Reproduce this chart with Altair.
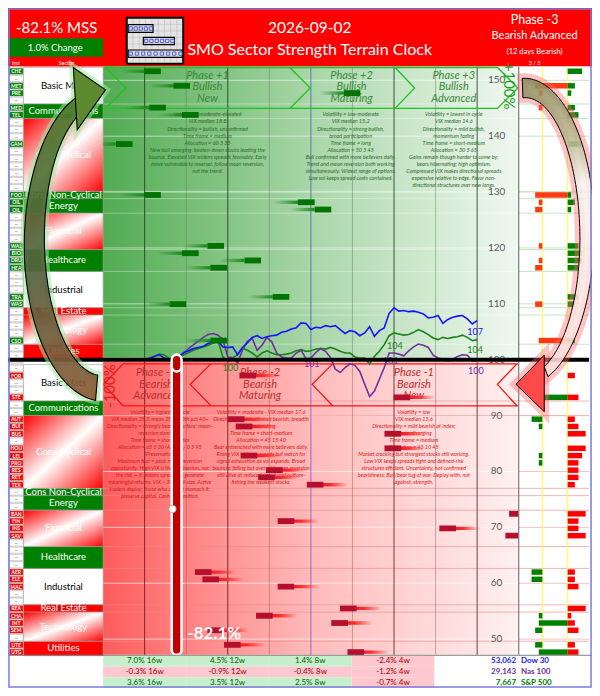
import numpy as np
import pandas as pd
import altair as alt

# ===================== values =====================
report_date = "2026-09-02"
chart_title = "SMO Sector Strength Terrain Clock"
mss_text = "-82.1% MSS"
mss_change_text = "1.0% Change"
phase_now = "Phase -3"
phase_name = "Bearish Advanced"
phase_days = "(12 days Bearish)"
phase_page = "3 / 3"
hand_label = "-82.1%"
hand_day = 1.77          # clock-hand position on the column axis
hand_dot_value = 73.3    # marker on the hand

sector_names = ["Basic Mats", "Communications", "Cons Cyclical", "Cons Non-Cyclical", "Energy",
                "Financial", "Healthcare", "Industrial", "Real Estate", "Technology", "Utilities"]
sector_sizes = [5, 2, 10, 1, 2, 5, 3, 5, 1, 4, 2]
sector_fill = ["white", "green", "redgrad", "green", "green", "redgrad", "green", "white", "red",
               "redgrad", "red"]

top_codes = ["CHE", "—", "MET", "PRE", "—", "MED", "TEL", "—", "—", "—",
             "GAM", "—", "—", "—", "—", "—", "—", "FOO", "OIL", "OIL",
             "—", "—", "—", "—", "WAL", "BIO", "DRU", "HEA", "—", "—",
             "—", "TRA", "WAS", "—", "—", "—", "—", "CSO", "—", "—"]
bottom_codes = ["—", "FOR", "—", "—", "STE", "—", "—", "AUT", "BUI", "BUS",
                "—", "HOU", "LEI", "PRO", "RES", "RET", "TEX", "—", "—", "—",
                "BAN", "FIN", "INS", "SAV", "—", "—", "—", "—", "AER", "ELE",
                "MAC", "—", "—", "REA", "CHA", "INT", "SEM", "—", "UTE", "UTG"]

# industry position on the clock face (column units), in code order
top_strength = [1.19, 1.89, 5.99, 1.31, 2.10, 0.51, 1.19, 4.89, 5.29, 2.71, 2.10, 3.60, 2.78,
                4.28, 1.80, 2.78]
bottom_strength = [3.48, 7.19, 3.20, 3.39, 6.97, 6.97, 3.51, None, 4.12, 3.93, 5.10, 9.97, 4.40,
                   8.29, 9.88, 2.41, 2.59, 4.40, 5.90, 3.88, 5.69, 2.71, 3.11, 6.08]

# right-hand counters per industry (neg side, middle band, pos side)
top_neg = [0, 2, 1, 1, 0, 0, 2, 1, 2, 1, 0, 1, 2, 0, 2, 1]
top_mid = [0, 1, 0, 0, 0, 0, 1, 0, 0, 0, 0, 0, 0, 0, 0, 1]
top_pos = [4, 2, 1, 2, 3, 4, 1, 2, 1, 3, 4, 4, 3, 3, 2, 2]
bot_neg = [0, 0, 3, 1, 0, 0, 1, 1, 0, 0, 0, 0, 0, 0, 0, 3, 3, 0, 0, 1, 1, 2, 2, 1]
bot_mid = [0, 1, 0, 0, 0, 0, 0, 0, 0, 0, 0, 0, 0, 0, 0, 0, 0, 0, 0, 0, 1, 0, 0, 1]
bot_pos = [2, 3, 2, 3, 5, 5, 4, 3, 3, 3, 2, 5, 3, 3, 5, 2, 2, 3, 5, 1, 2, 3, 2, 3]

# index lines rebased to 100
dow_line = [100.1, 100.2, 100.6, 100.9, 100.3, 99.9, 100.1, 100.5, 101.3, 101.6,
            102.0, 102.2, 102.4, 102.9, 103.3, 103.4, 102.3, 102.2, 102.3, 100.9,
            102.2, 103.0, 104.0, 104.3, 103.8, 104.1, 104.3, 104.4, 104.9, 105.1,
            105.5, 105.7, 106.6, 106.5, 105.4, 105.8, 105.7, 106.1, 105.9, 106.1,
            105.4, 104.7, 105.2, 105.0, 104.3, 104.8, 105.9, 104.2, 105.2, 105.7,
            108.3, 109.3, 108.7, 108.8, 108.6, 108.7, 108.5, 108.2, 107.5, 107.6,
            107.9, 106.5, 107.2, 107.6, 107.8, 107.9, 107.3, 106.4, 107.0]
sp_line = [100.1, 100.3, 100.6, 101.0, 100.9, 100.2, 100.3, 100.5, 100.9, 101.3,
           101.7, 102.0, 102.3, 102.6, 103.0, 103.4, 100.5, 99.8, 100.3, 100.9,
           102.1, 101.7, 101.2, 100.5, 101.2, 101.6, 101.2, 100.9, 100.9, 101.0,
           101.2, 101.6, 101.8, 101.5, 101.6, 101.9, 102.0, 101.9, 102.2, 101.9,
           101.5, 101.2, 101.2, 100.5, 100.3, 100.3, 99.2, 100.6, 101.5, 102.7,
           104.3, 104.8, 104.6, 104.4, 104.5, 104.9, 105.4, 105.0, 104.5, 103.9,
           103.6, 104.0, 103.8, 104.0, 104.1, 104.4, 104.0, 103.4, 103.6]
nas_line = [100.1, 100.2, 100.1, 100.1, 100.3, 99.9, 100.2, 100.5, 101.2, 102.0,
            102.7, 103.3, 104.0, 104.5, 104.7, 104.4, 103.6, 100.5, 100.4, 99.4,
            101.7, 103.3, 103.8, 101.7, 102.6, 104.0, 103.2, 101.2, 100.5, 100.3,
            100.3, 101.2, 101.7, 100.2, 100.3, 101.3, 102.0, 101.5, 100.4, 98.3,
            97.7, 98.6, 99.3, 99.0, 97.9, 95.6, 93.4, 94.4, 96.5, 98.6,
            101.2, 101.2, 101.0, 100.7, 101.6, 102.3, 102.8, 102.6, 102.2, 100.8,
            100.3, 100.1, 99.8, 100.1, 100.6, 100.9, 100.8, 99.8, 99.9]
line_start, line_end = 1.0, 9.0

lbl_text = ["100", "101", "104", "101", "107", "104", "100"]
lbl_series = ["S&P 500", "Nas 100", "S&P 500", "Nas 100", "Dow 30", "S&P 500", "Nas 100"]
lbl_day = [3.06, 5.02, 7.02, 6.92, 8.95, 8.95, 8.97]
lbl_value = [98.6, 99.2, 102.4, 99.75, 104.9, 101.7, 97.9]

value_ticks = [150, 140, 130, 120, 110, 100, 90, 80, 70, 60, 50]

periods = ["16w", "12w", "8w", "4w"]
index_names = ["Dow 30", "Nas 100", "S&P 500"]
index_last = ["53,062", "29,143", "7,667"]
dow_chg = [7.0, 4.5, 1.4, -2.4]
nas_chg = [-0.3, -0.9, -0.4, -1.2]
spx_chg = [3.6, 3.5, 2.5, -0.7]

phase_top_titles = [["Phase +1", "Bullish", "New"], ["Phase +2", "Bullish", "Maturing"],
                    ["Phase +3", "Bullish", "Advanced"]]
phase_bot_titles = [["Phase -3", "Bearish", "Advanced"], ["Phase -2", "Bearish", "Maturing"],
                    ["Phase -1", "Bearish", "New"]]
phase_top_desc = [
    ["Volatility = moderate-elevated", "VIX median 18.8", "Directionality = bullish, unconfirmed",
     "Time frame = medium", "Allocation = 60 5 35",
     "New bull emerging; beaten-down stocks leading the",
     "bounce. Elevated VIX widens spreads favorably. Early",
     "move vulnerable to reversal. follow mean reversion,", "not the trend."],
    ["Volatility = low-moderate", "VIX median 15.2", "Directionality = strong bullish,",
     "broad participation", "Time frame = long", "Allocation = 50 5 45",
     "Bull confirmed with more believers daily.", "Trend and mean reversion both working",
     "simultaneously. Widest range of options.", "Low vol keeps spread costs contained."],
    ["Volatility = lowest in cycle", "VIX median 14.6", "Directionality = mild bullish,",
     "momentum fading", "Time frame = short-medium", "Allocation = 30 5 65",
     "Gains remain though harder to come by;", "bears hibernating; high optimism.",
     "Compressed VIX makes directional spreads", "expensive relative to edge. Favor non-",
     "directional structures over new longs."],
]
phase_bot_desc = [
    ["Volatility = highest in cycle", "VIX median 25.3, mean 28.1, 90th pct 40+",
     "Directionality = strongly bearish surface; mean-", "reversion dominant",
     "Time frame = short entries", "Allocation = 65 5 30 (Active) / 0 5 95", "(Preservation)",
     "Maximum fear = peak mean-reversion", "opportunity. High VIX is the mechanism, not",
     "the risk — it widens spreads to generate", "meaningful returns. VIX > 30 = full size. Active",
     "traders deploy; those who cannot stomach it:", "preserve capital. Cash is a position."],
    ["Volatility = moderate - VIX median 17.6", "Directionality = confirmed bearish, breadth",
     "deteriorating", "Time frame = short-medium", "Allocation = 45 15 40",
     "Bear entrenched with more believers daily.", "Rising VIX widens spreads but watch for",
     "signal exhaustion as vol expands. Broad", "bounces failing but oversold mean reversion",
     "still alive at reduced size. Avoid bottom-", "fishing the weakest stocks."],
    ["Volatility = low", "VIX median 15.6", "Directionality = mild bearish at index;",
     "stocks diverging", "Time frame = medium", "Allocation = 45 10 45",
     "Market cracking but strongest stocks still working.",
     "Low VIX keeps spreads tight and defined-risk",
     "structures efficient. Uncertainty, not confirmed",
     "bearishness. Bull/bear tug of war. Deploy with, not", "against, strength."],
]

# ===================== layout helpers =====================
FONT = "Lato"
K = 0.975
SYM = 4 * K * K


def X(px):
    return (px - 97.7) / 42.7


def Y(py):
    return 100 + (360 - py) / 5.72


XS = alt.Scale(domain=[X(0), X(600)], nice=False, zero=False)
YS = alt.Scale(domain=[Y(696), Y(0)], nice=False, zero=False)


def ex(f):
    return alt.X(f + ":Q", scale=XS, axis=None)


def ey(f):
    return alt.Y(f + ":Q", scale=YS, axis=None)


def rects(df, enc=None, **mark):
    e = dict(x=ex("x0"), x2="x1:Q", y=ey("y0"), y2="y1:Q")
    if enc:
        e.update(enc)
    return alt.Chart(df).mark_rect(**mark).encode(**e)


def box(px0, py0, px1, py1, **mark):
    df = pd.DataFrame({"x0": [X(px0)], "x1": [X(px1)], "y0": [Y(py0)], "y1": [Y(py1)]})
    return rects(df, **mark)


def texts(df, enc=None, **mark):
    e = dict(x=ex("x"), y=ey("y"), text=alt.Text("t:N"))
    if enc:
        e.update(enc)
    return alt.Chart(df).mark_text(font=FONT, **mark).encode(**e)


def T(px, py, t, **mark):
    return texts(pd.DataFrame({"x": [X(px)], "y": [Y(py)], "t": [t]}), **mark)


def hlines(vals, px0, px1, **mark):
    df = pd.DataFrame({"y": list(vals)})
    df["x0"] = X(px0)
    df["x1"] = X(px1)
    return alt.Chart(df).mark_rule(**mark).encode(x=ex("x0"), x2="x1:Q", y=ey("y"))


def vlines(cols, py0, py1, **mark):
    df = pd.DataFrame({"x": list(cols)})
    df["y0"] = Y(py0)
    df["y1"] = Y(py1)
    return alt.Chart(df).mark_rule(**mark).encode(x=ex("x"), y=ey("y0"), y2="y1:Q")


def shape(path, **mark):
    df = pd.DataFrame({"x": [X(0)], "y": [Y(0)]})
    return alt.Chart(df).mark_point(shape=path, size=SYM, opacity=1, **mark).encode(
        x=ex("x"), y=ey("y"))


def poly(pts, close=True):
    s = "M" + " L".join(f"{a:.1f},{b:.1f}" for a, b in pts)
    return s + (" Z" if close else "")


def band(cx, cy, rx, ry, t0, t1, w0, w1, n=90):
    ts = np.radians(np.linspace(t0, t1, n))
    ws = np.linspace(w0, w1, n)
    out = [(cx + (rx + w / 2) * np.cos(t), cy + (ry + w / 2) * np.sin(t)) for t, w in zip(ts, ws)]
    inn = [(cx + (rx - w / 2) * np.cos(t), cy + (ry - w / 2) * np.sin(t)) for t, w in zip(ts, ws)]
    return poly(out + inn[::-1])


def lin(stops, x2=1, y2=0):
    return {"gradient": "linear", "x1": 0, "y1": 0, "x2": x2, "y2": y2,
            "stops": [{"offset": o, "color": c} for o, c in stops]}


TOP0, BOT0, ROWH = 61.0, 365.0, 7.45
PX0, PX1 = 97.7, 524.7

layers = []

# ---------------- header ----------------
layers.append(box(0, 0, 600, 60, color="#ff0000"))

# ---------------- main backgrounds ----------------
layers.append(box(PX0, 60, PX1, 358, color=lin([(0, "#52ab52"), (0.5, "#a8d6a8"), (1, "#f0f8f0")])))
layers.append(box(PX0, 362, PX1, 662, color=lin([(0, "#ff5c5c"), (0.5, "#ffbaba"), (1, "#fff0f0")])))

# gridlines in main area
layers.append(hlines([150, 140, 130, 120, 110], PX0, PX1, color="white", opacity=0.55))
layers.append(hlines([90, 80, 70, 60, 50], PX0, PX1, color="white", opacity=0.6))
cum = list(np.cumsum(sector_sizes)[:-1])
layers.append(hlines([Y(TOP0 + ROWH * c) for c in cum], PX0, PX1, color="white", opacity=0.35))
layers.append(hlines([Y(BOT0 + ROWH * c) for c in cum], PX0, PX1, color="#e88a8a", opacity=0.6))
layers.append(vlines([2, 4, 6, 8], 60, 358, color="#5a7f5a", opacity=0.45))
layers.append(vlines([1, 3, 7, 9], 60, 358, color="#1f3f1f", opacity=0.85))
layers.append(vlines([5], 60, 358, color="#5a6fb0", opacity=0.9))
layers.append(vlines([2, 4, 6, 8], 362, 662, color="#a05050", opacity=0.45))
layers.append(vlines([1, 3, 7, 9], 362, 662, color="#5a2020", opacity=0.85))
layers.append(vlines([5], 362, 662, color="#8a60c8", opacity=0.9))

# chevrons
top_path = ("M100,61 L502,61 L523,82 L502,103 L100,103 L121,82 Z "
            "M289,61 L310,82 L289,103 M397,61 L417,82 L397,103")
bot_path = ("M118,365 L525,365 M118,408 L525,408 M118,365 L98,386 L118,408 "
            "M208,365 L187,386 L208,408 M333,365 L312,386 L333,408 M522,365 L502,386 L522,408")
layers.append(shape(top_path, filled=False, stroke="#22c022", strokeWidth=1.3))
layers.append(shape(bot_path, filled=False, stroke="#ff1010", strokeWidth=1.3))

# phase titles & descriptions
top_centers = [205, 353, 458]
bot_centers = [152, 259, 417]
tt = []
for cx, lines in zip(top_centers, phase_top_titles):
    for k, s in enumerate(lines):
        tt.append({"x": X(cx), "y": Y(69.5 + 11.8 * k), "t": s})
layers.append(texts(pd.DataFrame(tt), fontSize=11, fontStyle="italic", color="#3a8a3a"))
bt = []
for cx, lines in zip(bot_centers, phase_bot_titles):
    for k, s in enumerate(lines):
        bt.append({"x": X(cx), "y": Y(374 + 11.8 * k), "t": s})
layers.append(texts(pd.DataFrame(bt), fontSize=11, fontStyle="italic", color="#b83030"))
td = []
for cx, lines in zip([205, 352, 458], phase_top_desc):
    for k, s in enumerate(lines):
        td.append({"x": X(cx), "y": Y(109 + 7.17 * k), "t": s})
layers.append(texts(pd.DataFrame(td), fontSize=5.4, fontStyle="italic", color="#2d6a2d"))
bd = []
for cx, lines in zip([156, 260, 417], phase_bot_desc):
    for k, s in enumerate(lines):
        bd.append({"x": X(cx), "y": Y(413 + 7.2 * k), "t": s})
layers.append(texts(pd.DataFrame(bd), fontSize=5.4, fontStyle="italic", color="#d01c1c"))

# index lines
series_color = {"Dow 30": "#1414ff", "Nas 100": "#7030a0", "S&P 500": "#1a841a"}
ldf = []
for name, vals in (("S&P 500", sp_line), ("Nas 100", nas_line), ("Dow 30", dow_line)):
    n = len(vals)
    for i, v in enumerate(vals):
        ldf.append({"x": line_start + (line_end - line_start) * i / (n - 1), "y": v, "s": name,
                    "c": series_color[name]})
layers.append(alt.Chart(pd.DataFrame(ldf)).mark_line(strokeWidth=1.6).encode(
    x=ex("x"), y=ey("y"), detail="s:N", color=alt.Color("c:N", scale=None)))
layers.append(texts(pd.DataFrame({"x": lbl_day, "y": lbl_value, "t": lbl_text,
                                  "c": [series_color[s] for s in lbl_series]}),
                    enc={"color": alt.Color("c:N", scale=None)}, fontSize=9))

# value tick labels
layers.append(texts(pd.DataFrame({"x": X(502), "y": value_ticks, "t": [str(v) for v in value_ticks]}),
                    fontSize=10, color="#595959"))

# sector bars in the clock face
top_rows = [r for r, c in enumerate(top_codes) if c != "—"]
bot_rows = [r for r, c in enumerate(bottom_codes) if c != "—"]
BW, TL = 0.2, 0.6
tb, ttail = [], []
for r, s in zip(top_rows, top_strength):
    v = Y(TOP0 + ROWH * (r + 0.5))
    tb.append({"x0": s - BW, "x1": s + BW, "y0": v + 0.52, "y1": v - 0.52})
    ttail.append({"x0": s - BW - TL, "x1": s - BW, "y0": v + 0.3, "y1": v - 0.3})
bb, btail = [], []
for r, s in zip(bot_rows, bottom_strength):
    if s is None:
        continue
    v = Y(BOT0 + ROWH * (r + 0.5))
    bb.append({"x0": s - BW, "x1": s + BW, "y0": v + 0.52, "y1": v - 0.52})
    btail.append({"x0": s, "x1": s + BW + TL, "y0": v + 0.3, "y1": v - 0.3})
layers.append(rects(pd.DataFrame(ttail), color=lin([(0, "rgba(30,140,30,0)"), (1, "#1e8a1e")])))
layers.append(rects(pd.DataFrame(tb), color="#007400"))
layers.append(rects(pd.DataFrame(btail),
                    color=lin([(0, "#d01830"), (0.45, "#ff2a2a"), (1, "rgba(255,40,40,0)")])))
layers.append(rects(pd.DataFrame(bb), color="#b40f2c"))

# clock hand
layers.append(rects(pd.DataFrame({"x0": [hand_day - 0.118], "x1": [hand_day + 0.118],
                                  "y0": [Y(355)], "y1": [Y(662)]}),
                    color="#c00000", stroke="white", strokeWidth=2.5, cornerRadius=5))
layers.append(alt.Chart(pd.DataFrame({"x": [hand_day - 0.1], "y": [hand_dot_value]})).mark_point(
    filled=True, size=55, fill="white", stroke="#999999", strokeWidth=0.8, opacity=1).encode(
    x=ex("x"), y=ey("y")))
layers.append(T(212, 641, hand_label, fontSize=17, fontWeight="bold", color="white"))

# ---------------- right panel ----------------
layers.append(box(PX1, 60, 597, 662, color="white"))
layers.append(hlines([150, 140, 130, 120, 110], PX1, 597, color="#c4e4c4"))
layers.append(hlines([90, 80, 70, 60, 50], PX1, 597, color="#f2c4c4"))
layers.append(hlines([Y(TOP0 + ROWH * c) for c in cum], PX1, 597, color="#c4e4c4"))
layers.append(hlines([Y(BOT0 + ROWH * c) for c in cum], PX1, 597, color="#f2b4b4"))
L1, L2 = X(549), X(575)
layers.append(vlines([L1, L2], 60, 662, color="#ffff55", strokeWidth=1.2))
U = 3.7 / 42.7
hist = []
for rows, neg, mid, pos, base, nc, pc in (
        (top_rows, top_neg, top_mid, top_pos, TOP0, "#ff3a10", "#008000"),
        (bot_rows, bot_neg, bot_mid, bot_pos, BOT0, "#008000", "#ff0000")):
    for r, n_, m_, p_ in zip(rows, neg, mid, pos):
        yc = base + ROWH * (r + 0.5)
        if n_ or m_:
            hist.append({"x0": L1 - n_ * U, "x1": L2 if m_ else L1, "y0": Y(yc - 2.8),
                         "y1": Y(yc + 2.8), "c": nc})
        if p_:
            hist.append({"x0": L2, "x1": L2 + p_ * U, "y0": Y(yc - 2.8), "y1": Y(yc + 2.8), "c": pc})
layers.append(rects(pd.DataFrame(hist), enc={"color": alt.Color("c:N", scale=None)}))
layers.append(vlines([X(PX1)], 60, 662, color="#7a7a7a", strokeWidth=1.2))

# ---------------- left panel ----------------
ind = []
for base, codes, col in ((TOP0, top_codes, "#008000"), (BOT0, bottom_codes, "#ff0000")):
    for r, c in enumerate(codes):
        named = c != "—"
        ind.append({"x0": X(1.5), "x1": X(15.5), "y0": Y(base + ROWH * r + 0.7),
                    "y1": Y(base + ROWH * (r + 1) - 0.7), "x": X(8.5),
                    "y": Y(base + ROWH * (r + 0.5)), "t": c,
                    "bg": col if named else "#ffffff", "fg": "#ffffff" if named else "#9a9a9a"})
ind = pd.DataFrame(ind)
layers.append(box(0, 60, 16, 662, color="#dcdcdc"))
layers.append(rects(ind, enc={"color": alt.Color("bg:N", scale=None)}, stroke="#b0b0b0",
                    strokeWidth=0.4))
layers.append(texts(ind, enc={"color": alt.Color("fg:N", scale=None)}, fontSize=5,
                    fontWeight="bold"))

sec = []
for base in (TOP0, BOT0):
    r = 0
    for name, n_, f in zip(sector_names, sector_sizes, sector_fill):
        sec.append({"x0": X(16), "x1": X(PX0), "y0": Y(base + ROWH * r), "y1": Y(base + ROWH * (r + n_)),
                    "x": X(57), "y": Y(base + ROWH * (r + n_ / 2)), "t": name, "f": f,
                    "fg": "#000000" if f == "white" else "#ffffff"})
        r += n_
sec = pd.DataFrame(sec)
layers.append(rects(sec[sec.f == "white"], color="white", stroke="#9a9a9a", strokeWidth=0.6))
layers.append(rects(sec[sec.f == "green"], color="#008000", stroke="#9a9a9a", strokeWidth=0.6))
layers.append(rects(sec[sec.f == "red"], color="#ff0000", stroke="#9a9a9a", strokeWidth=0.6))
layers.append(rects(sec[sec.f == "redgrad"],
                    color=lin([(0, "#ff0000"), (0.5, "#ffffff"), (1, "#ff0000")], x2=1, y2=1),
                    stroke="#9a9a9a", strokeWidth=0.6))
layers.append(texts(sec, enc={"color": alt.Color("fg:N", scale=None)}, fontSize=9.5))

# 100 line
layers.append(hlines([100], 0, 597, color="black", strokeWidth=4))
# hand cap over the line
layers.append(rects(pd.DataFrame({"x0": [hand_day - 0.118], "x1": [hand_day + 0.118],
                                  "y0": [Y(355)], "y1": [Y(372)]}),
                    color="#c00000", stroke="white", strokeWidth=2.5, cornerRadius=5))

layers.append(T(515, 80, "+100%", fontSize=15, color="#1fa01f", angle=90))
layers.append(T(105, 387, "-100%", fontSize=15, color="#e02020", angle=270))

# ---------------- arrows ----------------
g_body = band(97, 240, 70, 150, 95, 252, 26, 16)
g_head = poly([(67, 61), (100, 84), (71, 125)])
layers.append(shape(g_body, filled=False, stroke="#9ee89e", strokeWidth=8, strokeOpacity=0.55))
layers.append(shape(g_head, filled=False, stroke="#9ee89e", strokeWidth=8, strokeOpacity=0.55))
layers.append(shape(g_body, filled=True,
                    fill=lin([(0, "#4f7a2c"), (0.6, "#55603f"), (1, "#8c5a36")], x2=0, y2=1),
                    stroke="black", strokeWidth=1.1, fillOpacity=0.92))
layers.append(shape(g_head, filled=True, fill="#5d8a2e", stroke="black", strokeWidth=1.1))

r_body = band(530, 232, 64, 150, 268, 430, 20, 11)
r_head = poly([(550, 356), (521, 386), (550, 414)])
layers.append(shape(r_body, filled=False, stroke="#ff6a6a", strokeWidth=10, strokeOpacity=0.4))
layers.append(shape(r_head, filled=False, stroke="#ff6a6a", strokeWidth=10, strokeOpacity=0.4))
layers.append(shape(r_body, filled=True,
                    fill=lin([(0, "#8a8756"), (0.2, "#b9b48e"), (0.35, "#f6f1ea"), (1, "#ffdede")],
                             x2=0, y2=1),
                    stroke="black", strokeWidth=1.0, fillOpacity=0.85))
layers.append(shape(r_head, filled=True, fill="#ff4a4a", stroke="black", strokeWidth=1.0))

# ---------------- header content ----------------
layers.append(T(50, 20, mss_text, fontSize=15, color="white"))
layers.append(box(0, 31, PX0, 50, color="#008000"))
layers.append(T(48.5, 41, mss_change_text, fontSize=9.5, color="white"))
layers.append(T(310, 20, report_date, fontSize=15.5, color="white"))
layers.append(T(310, 43, chart_title, fontSize=16, color="white"))
layers.append(T(541, 12, phase_now, fontSize=12.5, color="white"))
layers.append(T(541, 29, phase_name, fontSize=11, color="white"))
layers.append(T(541, 45, phase_days, fontSize=7.5, color="white"))
layers.append(T(541, 56, phase_page, fontSize=5.5, color="white"))
layers.append(T(4, 56, "Ind", fontSize=5.5, color="white", align="left"))
layers.append(T(52, 56, "Sector", fontSize=5.5, color="white", align="left"))

# logo
layers.append(box(122, 10, 180, 57, color="#e4e4e4", stroke="black", strokeWidth=2))
layers.append(vlines([X(122 + 6.45 * i) for i in range(1, 9)], 11, 56, color="#b5b5b5",
                     strokeWidth=0.5))
layers.append(hlines([Y(10 + 6.7 * i) for i in range(1, 7)], 123, 179, color="#b5b5b5",
                     strokeWidth=0.5))
for (a, b, c, d) in ((123.5, 17, 149, 25), (139, 30, 171, 37.5), (123.5, 43, 179, 50.5)):
    layers.append(box(a, b, c, d, fillOpacity=0, stroke="black", strokeWidth=1.2))
sq = []
for x0, yc, n_, step in ((126, 21, 5, 5.2), (142, 33.7, 6, 5.4), (126, 46.7, 9, 6.4)):
    for i in range(n_):
        sq.append({"x": X(x0 + step * i), "y": Y(yc)})
layers.append(alt.Chart(pd.DataFrame(sq)).mark_point(shape="square", size=11, filled=True,
                                                     fill="#d8dcf4", stroke="#3344cc",
                                                     strokeWidth=0.8, opacity=1).encode(
    x=ex("x"), y=ey("y")))

# ---------------- footer ----------------
chgs = [dow_chg, nas_chg, spx_chg]
cedges = [PX0, 183, 268, 353, 438]
redges = [663, 674, 685, 696]
foot = []
for i in range(3):
    for j, p in enumerate(periods):
        v = chgs[i][j]
        foot.append({"x0": X(cedges[j]), "x1": X(cedges[j + 1]), "y0": Y(redges[i]),
                     "y1": Y(redges[i + 1]), "x": X((cedges[j] + cedges[j + 1]) / 2),
                     "y": Y((redges[i] + redges[i + 1]) / 2), "t": f"{v:.1f}% {p}",
                     "bg": "#c6efce" if v >= 0 else "#ffc7ce",
                     "fg": "#006100" if v >= 0 else "#9c0006"})
foot = pd.DataFrame(foot)
layers.append(rects(foot, enc={"color": alt.Color("bg:N", scale=None)}))
layers.append(texts(foot, enc={"color": alt.Color("fg:N", scale=None)}, fontSize=8))
ic = ["#2020ff", "#7030a0", "#008000"]
yrow = [(redges[i] + redges[i + 1]) / 2 for i in range(3)]
layers.append(texts(pd.DataFrame({"x": X(522), "y": [Y(v) for v in yrow], "t": index_last, "c": ic}),
                    enc={"color": alt.Color("c:N", scale=None)}, fontSize=8, fontWeight="bold",
                    align="right"))
layers.append(texts(pd.DataFrame({"x": X(527), "y": [Y(v) for v in yrow], "t": index_names, "c": ic}),
                    enc={"color": alt.Color("c:N", scale=None)}, fontSize=8, fontWeight="bold",
                    align="left"))
layers.append(hlines([Y(662.5)], 0, 600, color="#808080", strokeWidth=1))

# border
layers.append(box(1, 1, 599, 695, fillOpacity=0, stroke="#7b7bdb", strokeWidth=1.5))

chart = alt.layer(*layers).properties(
    width=584, height=680, padding=0, background="white",
    autosize=alt.AutoSizeParams(type="none", contains="padding"),
).configure_view(stroke=None)
chart.save("out.html", embed_options={"renderer": "svg", "actions": False})
